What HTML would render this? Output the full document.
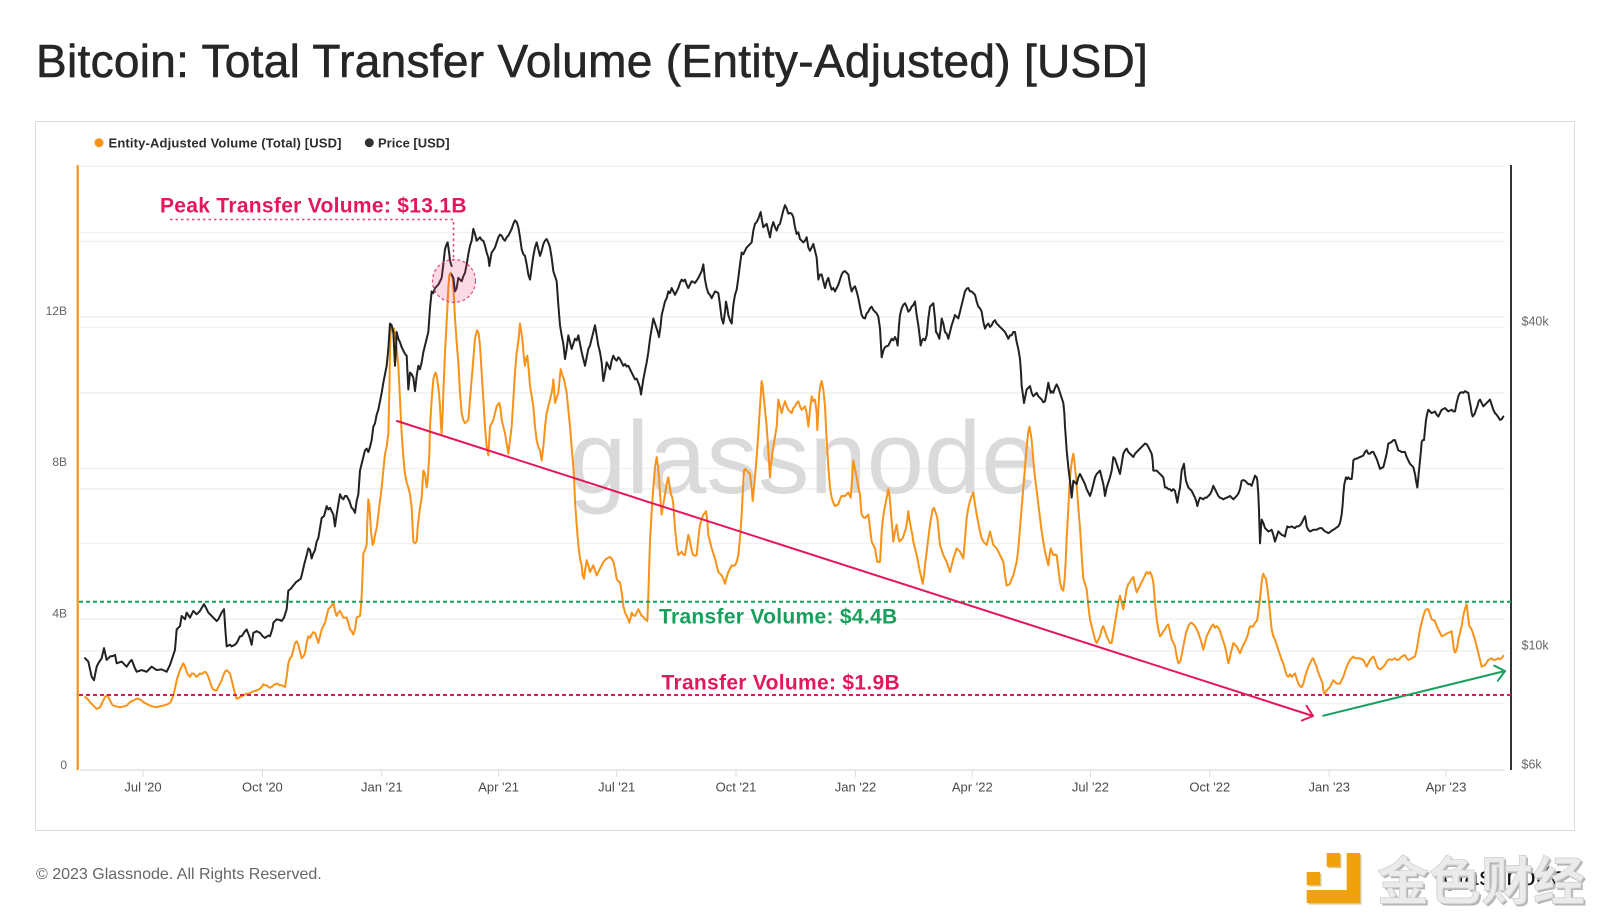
<!DOCTYPE html>
<html><head><meta charset="utf-8"><style>html,body{margin:0;padding:0;background:#fff}svg{display:block}</style></head>
<body>
<svg width="1600" height="922" viewBox="0 0 1600 922" xmlns="http://www.w3.org/2000/svg" font-family="'Liberation Sans', sans-serif">
<rect width="1600" height="922" fill="#fff"/>
<text x="36" y="77" font-size="46" fill="#262626" stroke="#262626" stroke-width="0.6" letter-spacing="0.3">Bitcoin: Total Transfer Volume (Entity-Adjusted) [USD]</text>
<rect x="35.5" y="121.5" width="1539" height="709" fill="#fff" stroke="#dcdcdc" stroke-width="1"/>
<!-- legend -->
<circle cx="99" cy="142.7" r="4.5" fill="#f7931a"/>
<text x="108.5" y="147.3" font-size="13" font-weight="bold" fill="#2d2d2d" letter-spacing="0.15">Entity-Adjusted Volume (Total) [USD]</text>
<circle cx="369.3" cy="142.7" r="4.5" fill="#333"/>
<text x="378" y="147.3" font-size="13" font-weight="bold" fill="#2d2d2d">Price [USD]</text>
<!-- gridlines -->
<g stroke="#f1f1f1" stroke-width="1.5">
<line x1="80" y1="166" x2="1505" y2="166"/>
<line x1="80" y1="232.5" x2="1505" y2="232.5"/>
<line x1="80" y1="241.5" x2="1505" y2="241.5"/>
<line x1="80" y1="317" x2="1505" y2="317"/>
<line x1="80" y1="327.5" x2="1505" y2="327.5"/>
<line x1="80" y1="393" x2="1505" y2="393"/>
<line x1="80" y1="468.5" x2="1505" y2="468.5"/>
<line x1="80" y1="489" x2="1505" y2="489"/>
<line x1="80" y1="543.5" x2="1505" y2="543.5"/>
<line x1="80" y1="619" x2="1505" y2="619"/>
<line x1="80" y1="651" x2="1505" y2="651"/>
<line x1="80" y1="703.5" x2="1505" y2="703.5"/>
</g>
<line x1="80" y1="770" x2="1505" y2="770" stroke="#e4e4e4" stroke-width="1.5"/>
<g stroke="#dddddd" stroke-width="1">
<line x1="143" y1="770" x2="143" y2="777"/><line x1="262.4" y1="770" x2="262.4" y2="777"/><line x1="381.8" y1="770" x2="381.8" y2="777"/><line x1="498.6" y1="770" x2="498.6" y2="777"/><line x1="616.7" y1="770" x2="616.7" y2="777"/><line x1="736" y1="770" x2="736" y2="777"/><line x1="855.5" y1="770" x2="855.5" y2="777"/><line x1="972.3" y1="770" x2="972.3" y2="777"/><line x1="1090.4" y1="770" x2="1090.4" y2="777"/><line x1="1209.8" y1="770" x2="1209.8" y2="777"/><line x1="1329.2" y1="770" x2="1329.2" y2="777"/><line x1="1446" y1="770" x2="1446" y2="777"/>
</g>
<!-- watermark -->
<text x="569" y="493" font-size="103" fill="#dadada">glassnode</text>
<!-- axes -->
<line x1="77.7" y1="165" x2="77.7" y2="770" stroke="#f7931a" stroke-width="2.2"/>
<line x1="1511" y1="165" x2="1511" y2="770" stroke="#333" stroke-width="2"/>
<!-- axis labels -->
<g font-size="12" fill="#666" text-anchor="end">
<text x="67" y="315">12B</text><text x="67" y="466">8B</text><text x="67" y="617.5">4B</text><text x="67" y="769">0</text>
</g>
<g font-size="12.5" fill="#666">
<text x="1521.5" y="325.5">$40k</text><text x="1521.5" y="649.5">$10k</text><text x="1521.5" y="768.5">$6k</text>
</g>
<g font-size="13" fill="#4a4a4a" text-anchor="middle">
<text x="143" y="791.5">Jul '20</text><text x="262.4" y="791.5">Oct '20</text><text x="381.8" y="791.5">Jan '21</text><text x="498.6" y="791.5">Apr '21</text><text x="616.7" y="791.5">Jul '21</text><text x="736" y="791.5">Oct '21</text><text x="855.5" y="791.5">Jan '22</text><text x="972.3" y="791.5">Apr '22</text><text x="1090.4" y="791.5">Jul '22</text><text x="1209.8" y="791.5">Oct '22</text><text x="1329.2" y="791.5">Jan '23</text><text x="1446" y="791.5">Apr '23</text>
</g>
<!-- orange series -->
<g fill="none" stroke="#f7931a" stroke-width="2" stroke-linejoin="round" stroke-linecap="round">
<g transform="translate(80,190) scale(0.33333,0.33807)"><polyline vector-effect="non-scaling-stroke" points="15,1500 22,1505 30,1515 40,1525 50,1535 55,1533 60,1530 65,1520 70,1510 75,1500 80,1495 85,1500 90,1510 95,1520 100,1525 110,1528 120,1530 130,1528 140,1525 150,1515 160,1510 170,1505 175,1505 185,1510 190,1515 200,1520 210,1525 220,1528 230,1530 240,1527 250,1525 258,1523 265,1520 272,1515 280,1495 285,1475 290,1450 295,1435 300,1420 305,1410 310,1400 315,1410 320,1425 325,1435 330,1440 335,1430 340,1430 345,1435 350,1440 355,1435 360,1430 365,1432 370,1428 375,1425 380,1430 385,1440 390,1455 395,1470 400,1478 405,1480 410,1480 415,1470 420,1460 425,1450 430,1435 435,1425 440,1420 445,1425 450,1430 455,1450 460,1470 465,1490 470,1505 475,1503 480,1500 485,1498 490,1495 495,1492 500,1490 505,1490 510,1488 515,1485 520,1483 525,1482 530,1480 535,1478 540,1475 545,1470 550,1462 555,1465 560,1465 565,1470 570,1472 575,1470 580,1465 585,1462 590,1460 595,1462 600,1465 605,1465 610,1468 615,1470 620,1440 625,1400 630,1385 635,1380 640,1360 645,1340 650,1335 655,1345 660,1365 665,1385 670,1380 675,1370 680,1340 685,1320 690,1325 695,1315 700,1308 705,1310 710,1325 715,1340 720,1320 725,1300 730,1290 735,1280 740,1260 745,1240 750,1235 755,1230 760,1220 765,1245 770,1260 775,1250 780,1245 785,1255 790,1265 795,1265 800,1265 805,1280 810,1300 815,1305 820,1315 825,1300 830,1265 835,1262 840,1260 843,1230 845,1200 848,1130 850,1075 855,1065 860,1050 862,980 865,915 868,930 870,960 873,1010 878,1050 882,1040 885,1020 890,1000 895,960 900,920 905,880 908,850 910,830 915,780 920,760 925,720 928,600 930,480 932,405 937,420 940,412 942,410 945,430 950,470 955,520 960,620 965,720 970,790 975,840 980,865 985,880 990,900 995,940 998,1000 1000,1040 1005,1045 1010,1040 1013,1000 1015,980 1020,940 1025,910 1028,860 1030,830 1035,840 1040,880 1043,860 1045,830 1048,780 1050,700 1055,620 1060,560 1064,545 1067,540 1070,550 1073,570 1077,600 1080,640 1083,700 1085,720 1088,660 1090,600 1095,480 1100,390 1105,290 1108,252"/></g>
<g transform="translate(440,190) scale(0.33333,0.33807)"><polyline vector-effect="non-scaling-stroke" points="28,252 32,245 38,260 42,320 45,380 50,450 55,510 60,600 65,660 70,680 75,690 80,685 85,680 90,620 95,560 100,500 105,440 110,420 112,415 116,425 120,460 125,540 130,620 135,700 140,760 145,785 150,700 155,690 160,680 165,660 170,640 175,632 178,630 182,650 185,680 190,700 195,720 200,750 205,780 210,740 215,700 220,620 225,540 230,480 232,470 236,440 240,395 244,420 248,450 252,500 255,520 258,500 262,490 266,530 270,580 275,610 280,640 285,700 290,740 295,760 300,770 305,800 310,760 315,700 320,660 325,640 330,620 335,600 338,580 340,560 343,600 345,630 350,615 355,600 358,570 362,530 366,545 372,560 376,580 380,600 385,650 390,700 395,760 400,820 403,870 405,920 410,990 415,1050 420,1090 425,1110 428,1140 432,1150 436,1120 440,1095 445,1110 450,1130 455,1120 460,1110 465,1125 470,1140 475,1130 480,1120 485,1110 490,1100 495,1095 500,1090 505,1088 510,1085 515,1090 520,1100 525,1120 530,1150 535,1158 540,1160 545,1190 550,1230 555,1250 560,1260 565,1270 568,1280 572,1265 575,1250 580,1258 585,1260 590,1250 595,1240 600,1250 605,1260 610,1262 615,1270 620,1272 622,1275 625,1200 628,1100 630,1040 635,950 640,880 645,820 650,790 653,810 657,850 660,900 665,960 670,930 675,900 680,870 685,850 688,870 693,900 697,910 700,930 705,1000 710,1050 715,1080 720,1075 725,1070 730,1078 735,1080 740,1050 745,1020 748,1030 752,1050 756,1070 760,1080 765,1082 770,1080 775,1030 780,990 785,975 790,960 795,955 798,950 802,980 805,1020 810,1040 815,1060 820,1075 825,1090 830,1110 835,1130 840,1135 845,1140 850,1150 855,1165 860,1145 865,1130 870,1120 875,1110 880,1112 885,1110 890,1100 895,1080 900,1030 905,960 908,900 912,830 916,825 920,830 925,835 930,840 935,880 938,920 941,890 945,850 950,790 955,720 960,640 965,565 968,580 972,620 975,650 980,700 985,770 988,820 990,850 993,810 997,780 1000,760 1005,730 1010,700 1013,650 1015,620 1020,640 1025,660 1030,640 1035,625 1040,640 1045,650 1050,655 1055,660 1060,645 1065,640 1070,630 1075,625 1080,640 1085,650 1090,645 1095,640 1100,660 1105,700 1110,650 1115,610 1120,625"/></g>
<g transform="translate(800,190) scale(0.33333,0.33807)"><polyline vector-effect="non-scaling-stroke" points="40,625 45,620 50,660 52,710 55,650 58,600 62,575 65,565 70,590 75,640 80,740 85,820 90,880 95,910 100,925 105,935 110,932 115,930 120,915 125,905 130,905 135,905 140,900 145,895 150,905 152,910 156,860 160,800 165,825 170,850 175,880 180,900 183,940 185,960 190,968 195,970 200,965 205,960 210,1000 215,1040 220,1050 225,1060 228,1080 232,1100 236,1100 240,1100 243,1050 245,1010 248,980 252,950 255,935 258,920 262,900 265,885 268,900 270,920 275,980 280,1040 285,1010 290,990 294,1020 298,1040 303,1035 308,1030 313,1015 318,1000 322,975 325,950 328,975 333,1000 337,1020 340,1040 345,1060 350,1080 355,1105 360,1130 365,1150 368,1165 372,1140 375,1110 380,1070 385,1030 390,990 395,960 398,945 402,940 407,955 412,970 416,1010 420,1050 425,1065 430,1080 435,1090 440,1100 445,1115 450,1130 455,1110 460,1090 465,1075 470,1060 475,1065 480,1070 485,1080 490,1090 495,1030 500,970 505,940 510,920 515,905 520,895 525,930 530,960 535,985 540,1010 545,1030 550,1040 555,1045 560,1050 565,1030 570,1010 575,1030 580,1050 585,1055 590,1060 595,1070 600,1080 605,1090 610,1100 615,1140 620,1170 625,1168 630,1165 635,1150 640,1140 645,1120 650,1100 655,1060 660,1000 665,940 670,880 675,820 680,760 685,715 688,700 692,720 695,740 700,800 705,850 710,890 715,930 720,970 725,1010 730,1040 735,1070 740,1090 745,1110 748,1085 752,1060 756,1070 760,1080 765,1078 770,1080 775,1120 780,1160 785,1180 790,1185 794,1150 797,1100 800,1030 805,940 808,880 812,830 816,800 820,780 823,800 826,830 830,870 835,940 840,1000 845,1080 850,1150 855,1165 860,1180 865,1230 870,1270 875,1290 880,1310 885,1330 890,1340 895,1330 900,1320 905,1300 910,1290 915,1305 920,1320 925,1330 930,1340 935,1340 940,1310 945,1280 950,1250 955,1220 960,1200 965,1220 970,1240 975,1210 980,1180 985,1165 990,1160 995,1150 1000,1145 1005,1170 1010,1190 1015,1180 1020,1170 1025,1160 1030,1150 1035,1140 1040,1130 1045,1135 1050,1130 1055,1140 1060,1160 1065,1220 1070,1270 1075,1300 1080,1320 1085,1315 1090,1305 1095,1300 1100,1290 1105,1285 1110,1305 1115,1330 1120,1338"/></g>
<g transform="translate(1160,190) scale(0.33333,0.33807)"><polyline vector-effect="non-scaling-stroke" points="40,1338 45,1350 50,1380 55,1400 60,1395 62,1390 67,1365 72,1340 78,1310 85,1290 90,1282 95,1280 100,1285 105,1290 110,1300 115,1310 120,1325 125,1340 130,1360 135,1340 140,1320 145,1310 150,1300 155,1290 160,1285 165,1295 170,1290 175,1295 178,1300 182,1310 185,1320 190,1335 195,1350 200,1375 205,1400 208,1390 210,1380 215,1360 220,1340 225,1345 230,1350 235,1360 240,1370 244,1360 248,1350 253,1340 258,1330 262,1320 265,1310 268,1295 272,1290 276,1292 280,1290 285,1280 290,1275 292,1270 296,1240 300,1210 303,1180 305,1160 308,1140 310,1135 314,1145 318,1150 321,1170 325,1200 330,1250 335,1300 340,1320 345,1330 350,1345 355,1360 360,1375 365,1390 370,1400 375,1420 380,1435 385,1440 390,1432 395,1440 400,1435 405,1430 410,1445 415,1460 420,1468 425,1470 430,1460 435,1440 440,1425 445,1410 450,1400 455,1390 458,1385 462,1390 465,1400 470,1410 472,1420 476,1430 480,1440 484,1450 488,1460 490,1480 493,1490 497,1485 500,1480 505,1475 510,1470 515,1460 520,1450 525,1455 530,1460 535,1460 540,1460 545,1450 550,1440 555,1425 560,1410 565,1400 570,1390 575,1385 580,1380 585,1385 590,1385 595,1385 600,1385 605,1388 610,1390 615,1400 620,1410 625,1400 630,1390 635,1385 640,1380 645,1390 648,1400 652,1410 655,1415 660,1418 665,1415 670,1410 675,1405 680,1395 685,1390 690,1388 695,1390 700,1388 705,1385 710,1390 715,1390 720,1385 725,1380 730,1378 735,1375 740,1385 745,1390 750,1388 755,1385 760,1382 765,1380 770,1360 775,1330 780,1300 785,1280 790,1260 795,1245 800,1240 805,1240 810,1255 815,1270 820,1272 825,1275 830,1290 835,1300 840,1310 845,1320 850,1318 855,1315 860,1312 865,1310 870,1308 875,1305 878,1330 882,1360 885,1368 888,1365 892,1350 895,1330 900,1310 905,1290 908,1270 912,1250 916,1235 920,1225 924,1260 928,1290 932,1295 935,1300 940,1315 945,1330 950,1350 955,1370 960,1390 965,1410 970,1408 975,1405 980,1398 985,1390 990,1388 995,1385 1000,1390 1005,1390 1010,1388 1015,1385 1020,1388 1025,1385 1030,1378"/></g>
</g>
<!-- black price series -->
<g fill="none" stroke="#222" stroke-width="2" stroke-linejoin="round" stroke-linecap="round">
<g transform="translate(80,190) scale(0.33333,0.33807)"><polyline vector-effect="non-scaling-stroke" points="15,1385 25,1395 35,1440 42,1450 50,1410 55,1400 65,1385 72,1355 80,1390 90,1380 100,1378 105,1375 110,1400 125,1395 140,1410 150,1395 155,1390 165,1415 170,1425 185,1420 200,1425 210,1415 215,1410 230,1420 245,1418 260,1425 270,1405 275,1390 285,1360 290,1300 300,1290 305,1260 315,1270 320,1250 330,1265 340,1245 350,1255 360,1245 372,1225 380,1240 385,1250 395,1260 400,1265 410,1275 415,1270 425,1250 432,1240 436,1300 440,1350 450,1345 455,1350 465,1345 470,1340 480,1320 485,1320 495,1305 500,1300 508,1320 515,1345 520,1310 530,1305 540,1310 548,1320 555,1325 565,1318 570,1320 578,1295 580,1280 590,1270 600,1272 605,1275 612,1265 620,1240 625,1185 632,1180 640,1170 648,1160 655,1155 662,1150 665,1140 672,1110 680,1080 685,1060 690,1065 695,1090 700,1075 705,1065 710,1040 715,1030 720,1000 725,970 732,965 740,935 745,945 750,940 755,950 760,960 765,995 770,960 775,930 780,900 785,910 790,915 795,905 800,905 808,920 815,940 820,945 825,955 830,920 835,900 840,830 845,810 850,790 855,770 860,765 865,775 870,760 875,740 880,700 885,690 890,665 895,650 900,625 905,600 910,570 915,545 920,520 925,470 930,395 935,400 940,420 945,520 948,470 950,420 955,440 960,450 965,465 970,475 975,485 980,490 985,590 988,560 990,540 995,545 1000,555 1005,595 1010,550 1015,520 1020,530 1025,510 1030,480 1035,460 1040,440 1045,420 1050,350 1055,300 1060,305 1065,290 1070,285 1075,280 1080,270 1085,260 1090,220 1095,175 1100,160 1103,155 1108,190 1110,210 1115,225"/></g>
<g transform="translate(440,190) scale(0.33333,0.33807)"><polyline vector-effect="non-scaling-stroke" points="35,250 40,260 45,300 50,290 55,260 60,265 65,270 70,255 75,245 80,220 85,190 90,165 95,150 100,115 105,130 110,150 115,145 120,140 125,148 130,150 135,165 140,185 145,200 148,225 152,200 155,185 160,178 165,170 170,155 175,140 180,132 185,135 190,145 195,150 200,140 205,135 210,125 215,115 220,100 225,90 230,95 235,110 240,140 245,175 250,190 255,195 260,220 265,250 270,265 275,230 280,195 285,170 290,155 295,175 300,195 305,180 310,160 315,150 320,145 325,155 330,170 335,200 340,240 345,255 350,270 355,340 360,400 365,430 370,455 375,500 380,470 385,430 390,450 395,470 400,455 405,440 410,445 415,430 420,455 425,480 430,500 435,520 440,495 445,470 450,460 455,440 460,420 465,400 470,430 475,460 480,480 485,510 490,565 495,540 500,510 505,520 510,530 515,505 520,490 525,500 530,505 535,495 540,500 545,510 550,520 555,515 560,522 565,520 570,530 575,540 580,550 585,560 590,558 595,570 600,585 603,605 607,580 610,560 615,535 620,510 625,480 630,440 635,410 640,380 645,395 650,410 655,425 657,435 662,400 665,370 670,350 675,330 680,320 685,300 690,305 695,290 700,300 705,310 710,300 715,290 720,275 725,265 730,270 735,265 740,280 745,290 750,280 755,270 760,272 765,275 770,268 775,260 780,250 785,240 790,220 795,265 800,290 805,305 810,310 815,320 820,310 825,300 830,302 835,305 840,340 845,380 850,395 855,360 858,330 862,350 865,370 870,385 875,395 880,340 885,310 890,295 895,260 900,220 905,185 910,190 915,180 920,170 925,165 930,160 935,155 940,120 945,100 950,95 955,85 962,65 966,90 970,110 975,105 980,100 985,120 990,140 995,110 1000,95 1005,110 1010,120 1015,105 1020,100 1025,80 1030,60 1035,45 1040,55 1045,70 1050,68 1055,70 1060,80 1065,110 1070,130 1075,125 1080,145 1085,150 1090,155 1095,150 1100,140 1105,170 1110,180 1115,170 1120,160"/></g>
<g transform="translate(800,190) scale(0.33333,0.33807)"><polyline vector-effect="non-scaling-stroke" points="40,160 50,200 55,265 60,250 65,250 70,270 75,290 80,270 85,260 90,280 95,295 100,290 105,300 110,290 115,280 120,265 125,250 130,242 135,240 140,245 145,250 150,280 155,300 160,290 165,285 170,300 175,320 180,345 185,370 190,378 195,380 200,365 205,360 210,350 215,345 220,355 225,360 230,365 235,375 240,410 245,495 250,475 255,465 260,462 265,460 270,450 275,440 280,445 285,435 290,445 293,460 297,400 300,370 305,350 310,340 315,335 320,345 325,360 330,355 335,345 340,340 345,330 350,370 355,400 360,440 362,460 366,445 370,440 375,445 380,430 385,380 390,345 395,340 400,335 405,380 408,420 412,425 418,440 422,410 425,380 430,395 435,420 440,425 445,440 450,420 455,400 460,385 465,370 470,375 475,380 480,360 485,340 490,320 495,300 500,292 505,290 510,300 515,300 520,305 525,310 530,330 535,345 540,350 545,360 550,390 555,410 560,400 565,395 570,405 575,400 580,390 585,385 590,395 595,400 600,405 605,410 610,415 615,420 620,430 625,440 630,430 635,430 640,420 645,420 650,450 655,470 660,500 663,540 665,580 668,600 672,630 676,610 680,590 685,585 690,580 695,600 700,610 705,605 710,600 715,610 720,615 725,620 730,628 735,625 740,600 745,570 748,585 752,600 756,595 760,600 765,585 770,575 775,585 780,600 785,615 790,630 793,660 795,700 798,740 800,770 803,800 805,820 810,860 815,910 818,880 820,860 825,865 830,870 835,850 840,840 845,850 850,860 855,870 860,885 865,895 870,905 875,890 880,870 885,850 890,840 895,835 900,830 905,850 910,870 913,890 915,905 920,880 925,865 930,850 935,830 940,790 945,795 950,810 955,825 960,840 965,810 970,780 975,770 980,765 985,775 990,780 995,785 1000,790 1005,780 1010,775 1015,770 1020,765 1025,760 1030,755 1035,750 1040,752 1045,760 1050,770 1055,780 1058,800 1060,830 1065,830 1070,830 1075,835 1080,840 1085,845 1090,850 1095,880 1100,880 1105,885 1110,885 1115,890 1120,885"/></g>
<g transform="translate(1160,190) scale(0.33333,0.33807)"><polyline vector-effect="non-scaling-stroke" points="40,885 45,890 52,925 56,900 60,880 65,830 70,815 72,810 75,840 78,860 85,880 90,885 95,890 100,900 105,910 110,925 112,935 116,920 120,910 125,912 130,915 135,910 140,910 145,905 150,900 155,890 160,875 165,885 170,895 175,905 180,910 185,912 190,915 195,912 200,910 205,908 210,905 215,910 220,915 225,910 230,905 235,898 240,885 245,860 250,858 255,860 260,865 265,870 270,870 275,875 280,860 285,845 290,850 292,860 295,900 297,950 300,1045 303,1000 305,975 310,985 315,1000 320,1005 325,1010 330,1008 335,1005 340,1020 345,1040 350,1025 355,1010 360,1015 365,1020 370,1022 375,1025 378,1010 382,995 388,998 395,995 400,998 405,1000 410,995 415,995 420,992 425,985 430,975 435,965 438,980 440,995 445,1005 450,1010 455,1008 460,1005 465,1005 470,1005 475,1002 480,1000 485,1000 490,1005 495,1010 500,1012 505,1015 510,1012 515,1008 520,1005 525,1002 530,998 535,995 540,985 543,970 545,960 548,930 550,900 553,870 558,850 562,855 565,850 570,855 575,855 578,830 580,800 585,795 590,795 595,792 600,790 605,788 610,785 615,775 620,770 625,780 630,780 635,775 640,775 645,785 650,795 655,810 660,825 665,822 670,820 675,800 680,780 685,750 690,748 695,745 700,740 705,740 710,755 715,770 720,772 725,775 730,775 735,775 740,790 745,800 750,810 755,815 760,820 765,840 768,860 772,880 776,840 780,800 783,770 785,745 788,740 792,740 795,710 798,680 802,660 805,650 810,655 815,660 820,658 825,655 830,665 835,670 840,660 845,650 850,648 855,645 860,650 865,655 870,652 875,650 880,655 885,655 890,630 895,610 900,600 905,598 910,600 915,595 920,598 925,600 928,620 932,640 935,660 938,670 942,665 945,660 948,650 952,640 956,625 960,620 965,630 970,640 975,635 980,630 985,625 990,620 995,635 1000,650 1005,660 1010,665 1015,672 1020,680 1025,678 1030,670"/></g>
</g>
<!-- horizontal dashed levels -->
<line x1="79" y1="601.7" x2="1511" y2="601.7" stroke="#1a9e5c" stroke-width="2" stroke-dasharray="4 3"/>
<line x1="79" y1="695" x2="1511" y2="695" stroke="#e5175b" stroke-width="2" stroke-dasharray="4 3"/>
<!-- peak annotation -->
<circle cx="454" cy="281" r="21.5" fill="rgba(236,72,130,0.2)" stroke="#e0457b" stroke-width="1.2" stroke-dasharray="3 2.5"/>
<polyline points="170,219.5 453.5,219.5 453.5,261" fill="none" stroke="#e0457b" stroke-width="1.6" stroke-dasharray="2.5 3"/>
<text x="160" y="212.5" font-size="21" font-weight="bold" fill="#e5175b" letter-spacing="0.3">Peak Transfer Volume: $13.1B</text>
<!-- trend arrows -->
<g fill="none" stroke-width="2" stroke-linecap="round" stroke-linejoin="round">
<line x1="397" y1="421" x2="1313" y2="716" stroke="#e5175b"/>
<polyline points="1306.6,705.9 1313,716 1301.9,720.5" stroke="#e5175b"/>
<line x1="1323.3" y1="715.7" x2="1505" y2="671" stroke="#17a05b"/>
<polyline points="1494.2,665.7 1505,671 1497.9,680.7" stroke="#17a05b"/>
</g>
<text x="659" y="623.5" font-size="21" font-weight="bold" fill="#17a05b" letter-spacing="0.3">Transfer Volume: $4.4B</text>
<text x="661.5" y="689.5" font-size="21" font-weight="bold" fill="#e5175b" letter-spacing="0.3">Transfer Volume: $1.9B</text>
<!-- footer -->
<text x="36" y="879" font-size="16" fill="#666">© 2023 Glassnode. All Rights Reserved.</text>
<!-- bottom-right logos -->
<g fill="#b98300" opacity="0.45" transform="translate(1.5,1.5)">
<rect x="1326.7" y="853" width="13.3" height="13.7"/><rect x="1306.7" y="872" width="13.3" height="13"/><rect x="1346.7" y="853" width="13.3" height="50"/><rect x="1306.7" y="890" width="53.3" height="13"/>
</g>
<g fill="#f0a20b">
<rect x="1326.7" y="853" width="13.3" height="13.7"/><rect x="1306.7" y="872" width="13.3" height="13"/><rect x="1346.7" y="853" width="13.3" height="50"/><rect x="1306.7" y="890" width="53.3" height="13"/>
</g>
<text x="1443" y="885" font-size="26" fill="#111" letter-spacing="0.5">glassnode</text>
<text x="1379" y="902" font-size="52" font-weight="bold" font-family="'Liberation Sans','Noto Sans CJK SC',sans-serif" fill="#b5b5b5">金色财经</text>
<text x="1377" y="900" font-size="52" font-weight="bold" font-family="'Liberation Sans','Noto Sans CJK SC',sans-serif" fill="#ebebeb" stroke="#d0d0d0" stroke-width="0.8">金色财经</text>
</svg>
</body></html>
